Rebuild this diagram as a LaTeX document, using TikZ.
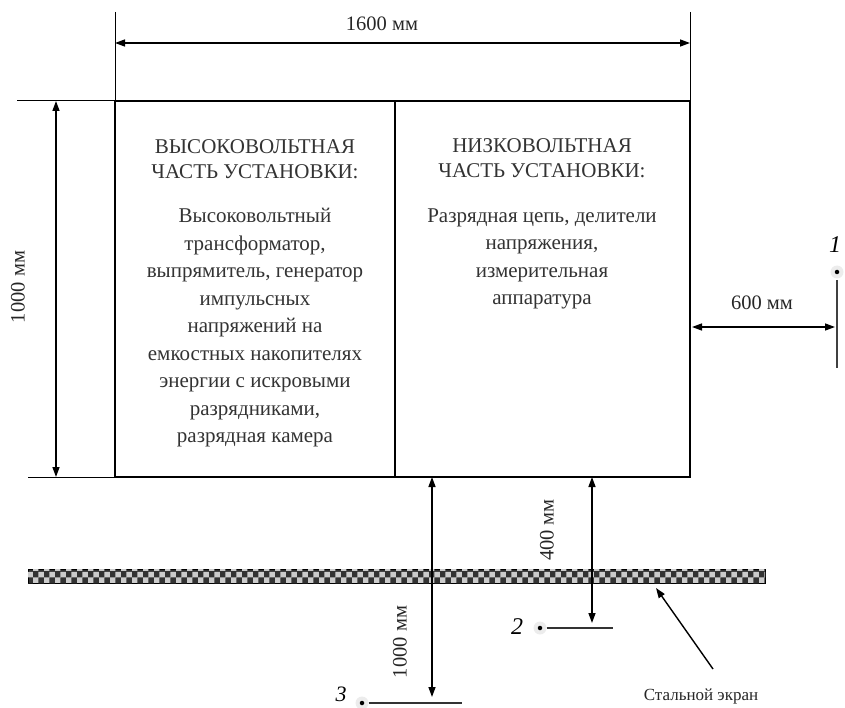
\documentclass[tikz,border=0pt]{standalone}
\usepackage{fontspec}
\setmainfont{Liberation Serif}
\usetikzlibrary{arrows.meta,patterns}
\begin{document}
\begin{tikzpicture}[x=1pt,y=-1pt,
 dim/.style={line width=1.4pt, {Triangle[length=10pt,width=7pt]}-{Triangle[length=10pt,width=7pt]}},
 onehead/.style={line width=1.4pt, -{Triangle[length=10pt,width=7pt]}},
 ext/.style={line width=1pt},
 boxline/.style={draw, line width=2.8pt, inner sep=0pt, outer sep=0pt},
 txt/.style={font=\fontsize{21}{27.5}\selectfont, align=center, text=black!80, inner sep=0pt},
 ttl/.style={font=\fontsize{21}{25}\selectfont, align=center, text=black!80, inner sep=0pt},
 lbl/.style={font=\fontsize{20.5}{22}\selectfont, text=black!85, inner sep=0pt},
 slbl/.style={font=\fontsize{17}{20}\selectfont, text=black!85, inner sep=0pt},
 num/.style={font=\fontsize{24}{24}\selectfont\itshape, inner sep=0pt},
 halo/.style={circle, fill=gray!15, minimum size=13pt, inner sep=0pt},
 dot/.style={circle, fill=black, minimum size=4.5pt, inner sep=0pt},
]
\useasboundingbox (0,0) rectangle (845,708);
% boxes
\node (hv) [boxline, minimum width=280pt, minimum height=376pt, anchor=north west] at (115,101) {};
\node (lv) [boxline, minimum width=295pt, minimum height=376pt, anchor=north west] at (395,101) {};
% texts
\node (hvt) [ttl] at (255,159) {ВЫСОКОВОЛЬТНАЯ\\ЧАСТЬ УСТАНОВКИ:};
\node (hvb) [txt] at (255,328) {Высоковольтный\\трансформатор,\\выпрямитель, генератор\\импульсных\\напряжений на\\емкостных накопителях\\энергии с искровыми\\разрядниками,\\разрядная камера};
\node (lvt) [ttl] at (542,158) {НИЗКОВОЛЬТНАЯ\\ЧАСТЬ УСТАНОВКИ:};
\node (lvb) [txt] at (542,259) {Разрядная цепь, делители\\напряжения,\\измерительная\\аппаратура};
% top dimension
\coordinate (e1) at (115,12);
\coordinate (e2) at (690,12);
\draw[ext] (e1) -- (hv.north west);
\draw[ext] (e2) -- (lv.north east);
\coordinate (t1) at (115,43);
\coordinate (t2) at (690,43);
\draw[dim] (t1) -- (t2);
\node (l1600) [lbl] at (382,24) {1600 мм};
% left dimension
\coordinate (le1) at (17,101);
\coordinate (le2) at (28,477);
\draw[ext] (le1) -- (hv.north west);
\draw[ext] (le2) -- (hv.south west);
\coordinate (a1) at (56,101);
\coordinate (a2) at (56,477);
\draw[dim] (a1) -- (a2);
\node (l1000a) [lbl, rotate=90] at (18,287) {1000 мм};
% steel screen
\draw[line width=0.8pt, fill=black!80] (28,569) rectangle (765,583);
\fill[pattern=checkerboard, pattern color=gray!40] (28,569) rectangle (765,583);
% right dimension and probe 1
\coordinate (r1) at (692,327);
\coordinate (r2) at (835,327);
\draw[dim] (r1) -- (r2);
\node (l600) [lbl] at (762,303) {600 мм};
\coordinate (p1a) at (837,280);
\coordinate (p1b) at (837,368);
\draw[line width=1.2pt, black!75] (p1a) -- (p1b);
\node (h1) [halo] at (837,272) {};
\node (d1) [dot] at (837,272) {};
\node (n1) [num] at (835,245) {1};
% bottom dimensions
\coordinate (b1) at (432,477);
\coordinate (b2) at (432,697);
\draw[dim] (b1) -- (b2);
\node (l1000b) [lbl, rotate=90] at (400,642) {1000 мм};
\coordinate (c1) at (592,477);
\coordinate (c2) at (592,623);
\draw[dim] (c1) -- (c2);
\node (l400) [lbl, rotate=90] at (547,530) {400 мм};
% probe 2
\node (h2) [halo] at (540,628) {};
\node (d2) [dot] at (540,628) {};
\node (n2) [num] at (517,627) {2};
\coordinate (p2b) at (613,628);
\draw[line width=1.2pt, black!80] (h2.east) -- (p2b);
% probe 3
\node (h3) [halo] at (362,703) {};
\node (d3) [dot] at (362,703) {};
\node (n3) [num, font=\fontsize{22}{22}\selectfont\itshape] at (341,694) {3};
\coordinate (p3b) at (462,703);
\draw[line width=1.6pt, black!80] (h3.east) -- (p3b);
% steel screen label
\node (scr) [slbl] at (701,696) {Стальной экран};
\coordinate (sa) at (656,588);
\coordinate (sb) at (713,669);
\draw[onehead] (sb) -- (sa);
\end{tikzpicture}
\end{document}
